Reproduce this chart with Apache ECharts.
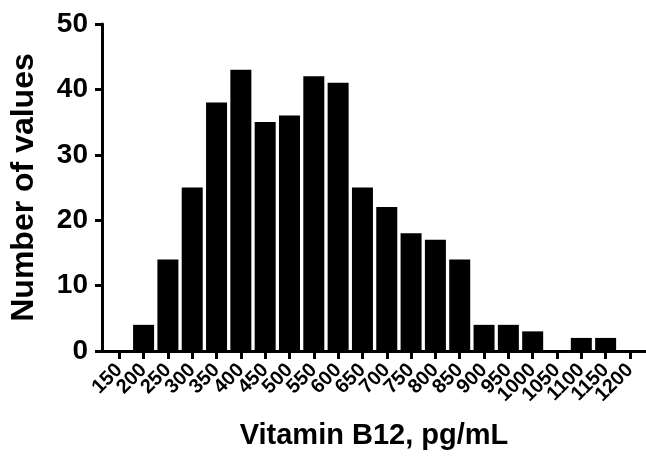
<!DOCTYPE html>
<html>
<head>
<meta charset="utf-8">
<script src="https://cdn.jsdelivr.net/npm/echarts@6/dist/echarts.min.js"></script>
<style>
  html, body { margin: 0; padding: 0; background: #fff; }
  #chart { width: 646px; height: 457px; }
</style>
</head>
<body>
<div id="chart"></div>
<script>
// bin centres (pg/mL) and counts
var bins = [150, 200, 250, 300, 350, 400, 450, 500, 550, 600, 650,
            700, 750, 800, 850, 900, 950, 1000, 1050, 1100, 1150, 1200];
var counts = [0, 4, 14, 25, 38, 43, 35, 36, 42, 41, 25,
              22, 18, 17, 14, 4, 4, 3, 0, 2, 2, 0];
var yTicks = [0, 10, 20, 30, 40, 50];

var font = '"Liberation Sans", Arial, sans-serif';

// labels are crowded, so they are split over two stacked bottom axes
// (echarts would otherwise drop the ones next to the first/last)
var evenBins = bins.filter(function (b, i) { return i % 2 === 0; });
var oddBins = bins.filter(function (b, i) { return i % 2 === 1; });

function tickLabel(values) {
  return {
    customValues: values,
    formatter: function (v) { return String(v); },
    rotate: 45,
    margin: 16,
    color: '#000',
    fontFamily: font,
    fontWeight: 'bold',
    fontSize: 20
  };
}

var chart = echarts.init(document.getElementById('chart'));
chart.setOption({
  animation: false,
  grid: {
    left: 100,
    right: 0,
    top: 24,
    bottom: 106
  },
  xAxis: [{
    type: 'value',
    position: 'bottom',
    min: 114.5,
    max: 1233,
    name: 'Vitamin B12, pg/mL',
    nameLocation: 'middle',
    nameGap: 70,
    nameTextStyle: {
      color: '#000',
      fontFamily: font,
      fontWeight: 'bold',
      fontSize: 29
    },
    axisLine: {
      lineStyle: { color: '#000', width: 3 }
    },
    axisTick: {
      show: true,
      length: 8,
      customValues: bins,
      lineStyle: { color: '#000', width: 3 }
    },
    axisLabel: tickLabel(evenBins),
    splitLine: { show: false }
  }, {
    type: 'value',
    position: 'bottom',
    offset: 0,
    min: 114.5,
    max: 1233,
    axisLine: { show: false },
    axisTick: { show: false },
    axisLabel: tickLabel(oddBins),
    splitLine: { show: false }
  }],
  yAxis: {
    type: 'value',
    min: 0,
    max: 50,
    interval: 10,
    name: 'Number of values',
    nameLocation: 'middle',
    nameGap: 62,
    nameTextStyle: {
      color: '#000',
      fontFamily: font,
      fontWeight: 'bold',
      fontSize: 32
    },
    axisLine: {
      show: true,
      lineStyle: { color: '#000', width: 3 }
    },
    axisTick: {
      show: true,
      length: 7,
      lineStyle: { color: '#000', width: 3 }
    },
    axisLabel: {
      customValues: yTicks,
      margin: 14,
      color: '#000',
      fontFamily: font,
      fontWeight: 'bold',
      fontSize: 28
    },
    splitLine: { show: false }
  },
  series: [{
    type: 'bar',
    xAxisIndex: 0,
    barWidth: 21,
    data: bins.map(function (b, i) { return [b, counts[i]]; }),
    itemStyle: { color: '#000' }
  }]
});
</script>
</body>
</html>
